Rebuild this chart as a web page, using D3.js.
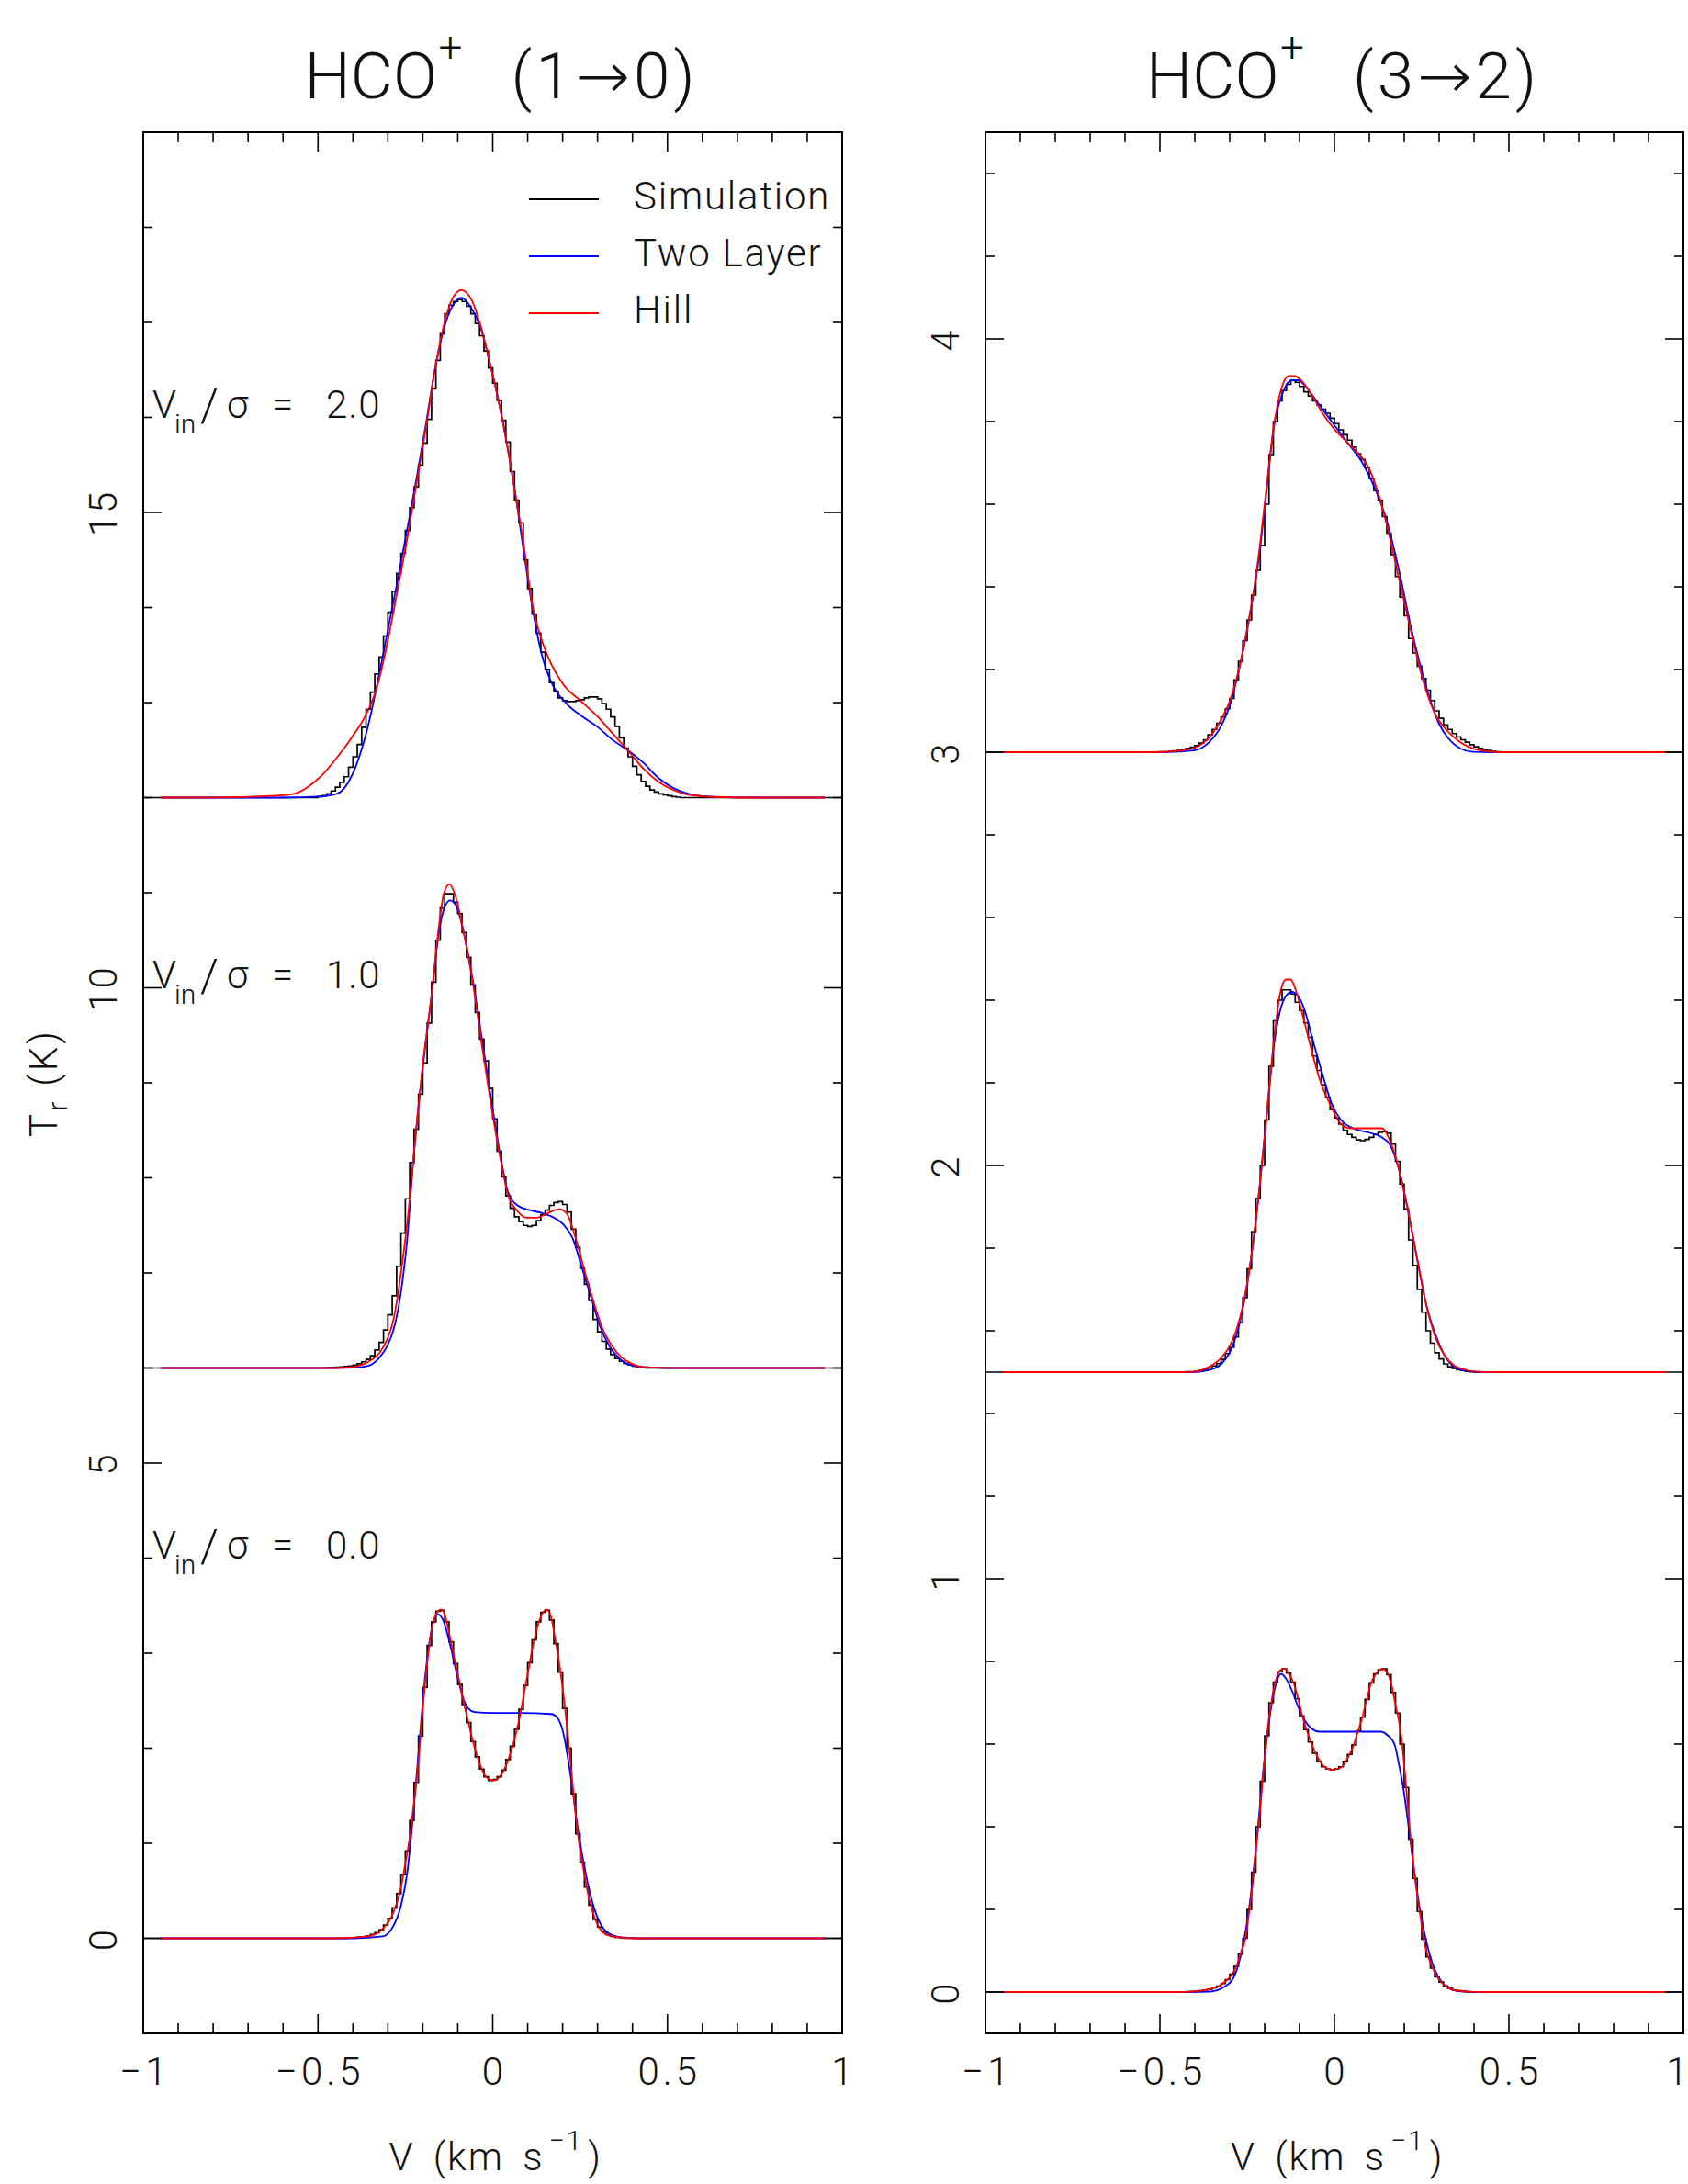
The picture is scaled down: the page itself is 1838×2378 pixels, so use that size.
<!DOCTYPE html>
<html>
<head>
<meta charset="utf-8">
<script src="https://cdn.jsdelivr.net/npm/d3@7"></script>
<style>
  html, body { margin: 0; padding: 0; background: #fff; }
  svg text { font-family: "Roboto", "DejaVu Sans", sans-serif; font-weight: 300; fill: #111; }
</style>
</head>
<body>
<svg id="chart" width="1838" height="2378"></svg>
<script>
// ---------------- DATA ----------------
const panelTitles = ["HCO", "HCO"];
const titleTransitions = ["(1\u21920)", "(3\u21922)"];
const xDomain = [-1, 1];
const xTickValues = [-1, -0.5, 0, 0.5, 1];
const xTickLabels = ["\u22121", "\u22120.5", "0", "0.5", "1"];
const leftYDomain = [-1, 19];
const rightYDomain = [-0.1, 4.5];
const leftYTicks = [0, 5, 10, 15];
const rightYTicks = [0, 1, 2, 3, 4];
const leftOffsets = [12, 6, 0];
const rightOffsets = [3, 1.5, 0];
const vinValues = ["2.0", "1.0", "0.0"];
const legendNames = ["Simulation", "Two Layer", "Hill"];
const seriesColors = ["#000000", "#0000ff", "#ff0000"];

// simulated spectra: channel values (K above offset), channels of width simBinWidth starting at simBinStart
const simBinStart = -0.5;
const simBinWidth = 0.0125;
const simL2 = [0.01,0.02,0.04,0.07,0.11,0.16,0.22,0.32,0.43,0.56,0.74,0.93,1.11,1.30,1.48,1.70,
  1.95,2.17,2.36,2.57,2.81,3.05,3.27,3.50,3.73,3.98,4.30,4.60,4.88,5.09,5.18,5.22,
  5.24,5.22,5.17,5.09,4.99,4.86,4.70,4.52,4.36,4.18,3.97,3.74,3.43,3.13,2.89,2.50,
  2.20,1.93,1.73,1.53,1.35,1.21,1.12,1.05,1.02,1.01,1.01,1.02,1.03,1.05,1.06,1.06,
  1.04,0.99,0.93,0.85,0.75,0.63,0.52,0.43,0.33,0.24,0.17,0.12,0.08,0.06,0.04,0.03,
  0.02,0.01,0.005,0];
const simL1 = [0,0,0.003,0.005,0.008,0.01,0.015,0.02,0.03,0.045,0.065,0.09,0.13,0.19,0.27,0.40,
  0.56,0.76,1.07,1.42,1.78,2.16,2.51,2.88,3.21,3.63,4.06,4.50,4.84,4.99,4.99,4.90,
  4.78,4.58,4.32,4.03,3.74,3.46,3.23,2.94,2.62,2.28,2.01,1.81,1.68,1.59,1.54,1.50,
  1.49,1.50,1.55,1.61,1.66,1.71,1.74,1.75,1.72,1.64,1.46,1.27,1.05,0.88,0.71,0.51,
  0.38,0.28,0.20,0.14,0.10,0.07,0.05,0.035,0.02,0.01,0.005,0,0,0,0,0,
  0,0,0,0];
const simL0 = [0,0,0,0,0,0,0.002,0.004,0.006,0.01,0.015,0.025,0.04,0.06,0.09,0.14,
  0.21,0.32,0.47,0.67,0.92,1.24,1.64,2.13,2.64,3.08,3.33,3.44,3.45,3.33,3.12,2.89,
  2.67,2.46,2.27,2.07,1.91,1.78,1.70,1.66,1.67,1.70,1.77,1.88,2.02,2.20,2.41,2.66,
  2.90,3.14,3.33,3.43,3.45,3.35,3.10,2.80,2.42,2.00,1.52,1.10,0.80,0.54,0.35,0.20,
  0.12,0.07,0.04,0.02,0.01,0.005,0,0,0,0,0,0,0,0,0,0,
  0,0,0,0];
const simR3 = [0.001,0.001,0.002,0.003,0.004,0.006,0.009,0.012,0.016,0.022,0.03,0.042,0.055,0.07,0.085,0.105,
  0.13,0.175,0.22,0.27,0.32,0.38,0.44,0.50,0.60,0.72,0.80,0.85,0.875,0.89,0.90,0.895,
  0.885,0.872,0.862,0.85,0.84,0.83,0.82,0.808,0.795,0.78,0.768,0.755,0.738,0.722,0.708,0.688,
  0.662,0.633,0.61,0.57,0.53,0.478,0.425,0.375,0.33,0.275,0.24,0.208,0.178,0.15,0.125,0.10,
  0.082,0.066,0.055,0.045,0.037,0.03,0.024,0.018,0.013,0.009,0.006,0.004,0.002,0.001,0,0,
  0,0,0,0];
const simR15 = [0,0,0,0,0,0,0.001,0.001,0.002,0.004,0.006,0.01,0.015,0.021,0.031,0.045,
  0.06,0.085,0.12,0.18,0.25,0.34,0.42,0.50,0.61,0.74,0.85,0.90,0.925,0.925,0.915,0.895,
  0.875,0.845,0.81,0.765,0.73,0.695,0.665,0.635,0.615,0.60,0.585,0.575,0.568,0.562,0.56,0.563,
  0.568,0.575,0.58,0.582,0.578,0.552,0.51,0.455,0.395,0.32,0.258,0.20,0.145,0.10,0.07,0.047,
  0.032,0.02,0.013,0.009,0.006,0.004,0.002,0.001,0,0,0,0,0,0,0,0,
  0,0,0,0];
const simR0 = [0,0,0,0,0,0,0.001,0.0015,0.002,0.003,0.005,0.007,0.01,0.014,0.021,0.03,
  0.043,0.062,0.092,0.13,0.20,0.29,0.40,0.51,0.62,0.70,0.75,0.775,0.782,0.772,0.75,0.71,
  0.668,0.635,0.605,0.578,0.558,0.545,0.54,0.538,0.54,0.545,0.558,0.575,0.598,0.632,0.665,0.708,
  0.748,0.77,0.78,0.782,0.768,0.725,0.675,0.60,0.495,0.37,0.275,0.195,0.128,0.085,0.058,0.037,
  0.024,0.015,0.009,0.005,0.003,0.002,0.001,0,0,0,0,0,0,0,0,0,
  0,0,0,0];

// fitted models: [velocity, K above offset]
const twoLayerL2 = [[-0.95,0],[-0.6,0],[-0.5,0.01],[-0.446,0.04],[-0.402,0.24],[-0.359,0.72],[-0.315,1.48],
  [-0.271,2.31],[-0.245,2.82],[-0.219,3.34],[-0.192,3.91],[-0.166,4.49],[-0.140,4.93],[-0.114,5.18],
  [-0.090,5.26],[-0.061,5.15],[-0.035,4.95],[-0.008,4.57],[0.027,3.99],[0.062,3.26],[0.088,2.61],
  [0.114,1.99],[0.140,1.51],[0.167,1.22],[0.211,0.99],[0.254,0.86],[0.298,0.75],[0.342,0.61],
  [0.386,0.50],[0.430,0.37],[0.473,0.21],[0.517,0.10],[0.561,0.04],[0.6,0.015],[0.7,0.002],[0.8,0],[0.95,0]];
const hillL2 = [[-0.95,0],[-0.8,0.002],[-0.7,0.008],[-0.622,0.02],[-0.569,0.04],[-0.534,0.10],[-0.490,0.23],
  [-0.446,0.42],[-0.402,0.64],[-0.359,0.90],[-0.332,1.15],[-0.306,1.55],[-0.271,2.21],[-0.245,2.72],
  [-0.219,3.29],[-0.192,3.87],[-0.166,4.49],[-0.140,4.97],[-0.114,5.26],[-0.090,5.34],[-0.061,5.24],
  [-0.035,4.97],[-0.008,4.57],[0.027,3.99],[0.062,3.26],[0.088,2.68],[0.114,2.02],[0.140,1.66],
  [0.167,1.41],[0.202,1.19],[0.254,1.01],[0.298,0.86],[0.342,0.68],[0.386,0.50],[0.430,0.31],
  [0.473,0.17],[0.517,0.08],[0.561,0.03],[0.65,0.005],[0.75,0],[0.95,0]];
const twoLayerL1 = [[-0.95,0],[-0.45,0],[-0.402,0.003],[-0.359,0.02],[-0.324,0.11],[-0.302,0.23],[-0.284,0.40],
  [-0.271,0.61],[-0.258,0.92],[-0.245,1.34],[-0.227,2.20],[-0.201,3.13],[-0.175,3.92],[-0.153,4.61],
  [-0.135,4.87],[-0.122,4.92],[-0.104,4.86],[-0.083,4.58],[-0.056,4.06],[-0.030,3.44],[-0.004,2.82],
  [0.022,2.23],[0.044,1.85],[0.071,1.71],[0.106,1.66],[0.141,1.63],[0.176,1.58],[0.202,1.51],
  [0.228,1.37],[0.255,1.06],[0.281,0.75],[0.307,0.44],[0.334,0.23],[0.360,0.11],[0.386,0.04],
  [0.430,0.01],[0.5,0],[0.95,0]];
const hillL1 = [[-0.95,0],[-0.45,0],[-0.402,0.01],[-0.359,0.06],[-0.324,0.16],[-0.302,0.30],[-0.284,0.51],
  [-0.271,0.78],[-0.258,1.13],[-0.245,1.51],[-0.227,2.20],[-0.201,3.16],[-0.175,3.92],[-0.153,4.68],
  [-0.140,4.99],[-0.124,5.09],[-0.109,4.99],[-0.083,4.58],[-0.056,4.03],[-0.030,3.37],[-0.004,2.75],
  [0.022,2.20],[0.044,1.82],[0.071,1.65],[0.097,1.58],[0.123,1.58],[0.158,1.63],[0.189,1.67],
  [0.211,1.63],[0.237,1.37],[0.263,1.02],[0.290,0.68],[0.316,0.40],[0.342,0.23],[0.369,0.11],
  [0.395,0.05],[0.430,0.01],[0.5,0],[0.95,0]];
const twoLayerL0 = [[-0.95,0],[-0.4,0],[-0.315,0.02],[-0.289,0.10],[-0.262,0.35],[-0.245,0.68],[-0.227,1.32],
  [-0.210,2.06],[-0.192,2.80],[-0.175,3.25],[-0.157,3.41],[-0.140,3.33],[-0.122,3.09],[-0.100,2.74],
  [-0.083,2.51],[-0.070,2.42],[-0.052,2.38],[0.000,2.37],[0.079,2.37],[0.167,2.36],[0.185,2.32],
  [0.202,2.16],[0.215,1.90],[0.228,1.58],[0.241,1.22],[0.255,0.90],[0.272,0.58],[0.290,0.32],
  [0.307,0.16],[0.333,0.05],[0.368,0.01],[0.42,0],[0.95,0]];
const hillL0 = [[-0.95,0],[-0.45,0],[-0.359,0.02],[-0.315,0.10],[-0.289,0.23],[-0.262,0.55],[-0.249,0.81],
  [-0.236,1.10],[-0.227,1.38],[-0.214,1.80],[-0.201,2.38],[-0.188,2.88],[-0.175,3.24],[-0.162,3.41],
  [-0.148,3.46],[-0.135,3.38],[-0.122,3.16],[-0.109,2.93],[-0.096,2.71],[-0.083,2.48],[-0.070,2.28],
  [-0.056,2.06],[-0.043,1.90],[-0.030,1.77],[-0.017,1.69],[0.002,1.66],[0.022,1.71],[0.036,1.80],
  [0.049,1.93],[0.062,2.09],[0.075,2.29],[0.088,2.54],[0.101,2.80],[0.114,3.06],[0.128,3.28],
  [0.141,3.41],[0.154,3.46],[0.167,3.38],[0.180,3.12],[0.193,2.83],[0.206,2.45],[0.220,1.96],
  [0.233,1.45],[0.246,1.03],[0.259,0.74],[0.272,0.48],[0.285,0.29],[0.298,0.16],[0.316,0.06],
  [0.342,0.02],[0.40,0],[0.95,0]];
const twoLayerR3 = [[-0.95,0],[-0.5,0],[-0.403,0.004],[-0.359,0.024],[-0.324,0.064],[-0.297,0.12],[-0.271,0.21],
  [-0.245,0.32],[-0.218,0.46],[-0.196,0.62],[-0.175,0.78],[-0.148,0.87],[-0.122,0.90],[-0.104,0.90],
  [-0.078,0.88],[-0.043,0.84],[-0.008,0.80],[0.036,0.75],[0.080,0.70],[0.115,0.64],[0.150,0.56],
  [0.185,0.44],[0.220,0.30],[0.246,0.21],[0.273,0.13],[0.299,0.07],[0.325,0.035],[0.361,0.009],
  [0.396,0.001],[0.45,0],[0.95,0]];
const hillR3 = [[-0.95,0],[-0.52,0],[-0.447,0.003],[-0.403,0.01],[-0.359,0.035],[-0.324,0.08],[-0.297,0.13],
  [-0.271,0.21],[-0.245,0.32],[-0.218,0.47],[-0.196,0.63],[-0.175,0.78],[-0.148,0.89],[-0.131,0.91],
  [-0.113,0.91],[-0.096,0.90],[-0.069,0.87],[-0.034,0.82],[0.001,0.78],[0.036,0.75],[0.071,0.72],
  [0.097,0.69],[0.124,0.63],[0.150,0.55],[0.185,0.42],[0.220,0.29],[0.255,0.17],[0.290,0.09],
  [0.325,0.05],[0.361,0.024],[0.396,0.009],[0.431,0.003],[0.475,0],[0.95,0]];
const twoLayerR15 = [[-0.95,0],[-0.45,0],[-0.403,0.0],[-0.359,0.005],[-0.324,0.02],[-0.297,0.053],[-0.271,0.12],
  [-0.245,0.24],[-0.218,0.42],[-0.192,0.64],[-0.175,0.78],[-0.157,0.87],[-0.139,0.91],[-0.122,0.92],
  [-0.104,0.91],[-0.087,0.88],[-0.061,0.80],[-0.034,0.72],[-0.008,0.65],[0.019,0.61],[0.053,0.59],
  [0.097,0.58],[0.132,0.57],[0.159,0.55],[0.185,0.49],[0.211,0.39],[0.238,0.27],[0.264,0.16],
  [0.290,0.09],[0.317,0.039],[0.343,0.013],[0.378,0.003],[0.43,0],[0.95,0]];
const hillR15 = [[-0.95,0],[-0.45,0],[-0.403,0.001],[-0.359,0.013],[-0.324,0.035],[-0.297,0.068],[-0.271,0.13],
  [-0.245,0.24],[-0.218,0.42],[-0.192,0.64],[-0.175,0.79],[-0.157,0.91],[-0.139,0.95],[-0.126,0.95],
  [-0.113,0.93],[-0.096,0.88],[-0.069,0.79],[-0.043,0.71],[-0.008,0.64],[0.019,0.60],[0.045,0.59],
  [0.080,0.59],[0.115,0.59],[0.137,0.59],[0.159,0.56],[0.185,0.49],[0.211,0.39],[0.238,0.27],
  [0.264,0.16],[0.290,0.083],[0.317,0.039],[0.343,0.016],[0.378,0.005],[0.413,0.001],[0.46,0],[0.95,0]];
const twoLayerR0 = [[-0.95,0],[-0.42,0],[-0.359,0.001],[-0.315,0.013],[-0.289,0.035],[-0.271,0.079],[-0.254,0.15],
  [-0.236,0.26],[-0.218,0.41],[-0.201,0.56],[-0.183,0.68],[-0.166,0.75],[-0.153,0.77],[-0.140,0.76],
  [-0.122,0.73],[-0.104,0.69],[-0.087,0.66],[-0.069,0.64],[-0.043,0.63],[0.036,0.63],[0.133,0.63],
  [0.154,0.62],[0.172,0.60],[0.185,0.55],[0.198,0.49],[0.211,0.41],[0.229,0.29],[0.247,0.19],
  [0.264,0.12],[0.286,0.057],[0.308,0.024],[0.334,0.007],[0.369,0.001],[0.42,0],[0.95,0]];
const hillR0 = [[-0.95,0],[-0.45,0],[-0.403,0.0015],[-0.359,0.007],[-0.332,0.014],[-0.315,0.024],[-0.297,0.039],
  [-0.280,0.064],[-0.267,0.098],[-0.255,0.13],[-0.245,0.19],[-0.232,0.28],[-0.223,0.36],[-0.214,0.43],
  [-0.205,0.52],[-0.196,0.60],[-0.188,0.66],[-0.179,0.71],[-0.166,0.76],[-0.153,0.78],[-0.142,0.782],
  [-0.131,0.77],[-0.118,0.75],[-0.104,0.71],[-0.091,0.665],[-0.078,0.63],[-0.065,0.60],[-0.052,0.575],
  [-0.039,0.555],[-0.025,0.543],[-0.008,0.538],[0.010,0.540],[0.027,0.550],[0.040,0.57],[0.054,0.595],
  [0.067,0.63],[0.080,0.665],[0.093,0.71],[0.106,0.75],[0.119,0.77],[0.137,0.782],[0.150,0.775],
  [0.163,0.745],[0.176,0.69],[0.185,0.655],[0.194,0.60],[0.203,0.52],[0.211,0.44],[0.220,0.36],
  [0.229,0.29],[0.238,0.23],[0.247,0.18],[0.255,0.13],[0.268,0.087],[0.282,0.057],[0.299,0.031],
  [0.321,0.013],[0.343,0.005],[0.387,0.001],[0.43,0],[0.95,0]];

// ---------------- DRAWING ----------------
const svg = d3.select("#chart");
const FONT = 42;
const TOP = 144, BOTTOM = 2214;
const W = 1838;

const panels = [
  { x0: 156, x1: 917, yDomain: leftYDomain, yTicks: leftYTicks, minorStep: 1, majorStep: 5,
    title: panelTitles[0], trans: titleTransitions[0], offsets: leftOffsets,
    sims: [simL2, simL1, simL0], two: [twoLayerL2, twoLayerL1, twoLayerL0], hill: [hillL2, hillL1, hillL0],
    legend: true, labels: true, ylabel: true },
  { x0: 1073, x1: 1833, yDomain: rightYDomain, yTicks: rightYTicks, minorStep: 0.2, majorStep: 1,
    title: panelTitles[1], trans: titleTransitions[1], offsets: rightOffsets,
    sims: [simR3, simR15, simR0], two: [twoLayerR3, twoLayerR15, twoLayerR0], hill: [hillR3, hillR15, hillR0],
    legend: false, labels: false, ylabel: false }
];

panels.forEach(p => {
  const x = d3.scaleLinear().domain(xDomain).range([p.x0, p.x1]);
  const y = d3.scaleLinear().domain(p.yDomain).range([BOTTOM, TOP]);
  const g = svg.append("g");
  const cx = (p.x0 + p.x1) / 2;

  // spectra
  p.offsets.forEach((off, i) => {
    const vals = p.sims[i];
    const pts = [[xDomain[0], off], [simBinStart, off]];
    vals.forEach((v, k) => {
      const e0 = simBinStart + k * simBinWidth, e1 = e0 + simBinWidth;
      pts.push([e0, v + off], [e1, v + off]);
    });
    const simEnd = simBinStart + vals.length * simBinWidth;
    pts.push([simEnd, off], [xDomain[1], off]);
    const lineStep = d3.line().x(d => x(d[0])).y(d => y(d[1]));
    g.append("path").attr("d", lineStep(pts)).attr("fill", "none")
      .attr("stroke", seriesColors[0]).attr("stroke-width", 1.7).attr("stroke-linejoin", "miter");

    const smooth = d3.line().curve(d3.curveMonotoneX).x(d => x(d[0])).y(d => y(d[1] + off));
    g.append("path").attr("d", smooth(p.two[i])).attr("fill", "none")
      .attr("stroke", seriesColors[1]).attr("stroke-width", 1.8);
    g.append("path").attr("d", smooth(p.hill[i])).attr("fill", "none")
      .attr("stroke", seriesColors[2]).attr("stroke-width", 1.8);
  });

  // frame
  g.append("rect").attr("x", p.x0).attr("y", TOP).attr("width", p.x1 - p.x0).attr("height", BOTTOM - TOP)
    .attr("fill", "none").attr("stroke", "#000").attr("stroke-width", 2);

  // x ticks (top and bottom)
  const xMinor = d3.range(-10, 11).map(k => k / 10);
  xMinor.forEach(v => {
    const major = Math.abs(v * 2 - Math.round(v * 2)) < 1e-9;
    const len = major ? 21 : 11;
    const xx = x(v);
    g.append("line").attr("x1", xx).attr("x2", xx).attr("y1", BOTTOM).attr("y2", BOTTOM - len)
      .attr("stroke", "#000").attr("stroke-width", 1.6);
    g.append("line").attr("x1", xx).attr("x2", xx).attr("y1", TOP).attr("y2", TOP + len)
      .attr("stroke", "#000").attr("stroke-width", 1.6);
  });
  // y ticks (left and right)
  const nMin = Math.ceil(p.yDomain[0] / p.minorStep - 1e-9), nMax = Math.floor(p.yDomain[1] / p.minorStep + 1e-9);
  d3.range(nMin, nMax + 1).forEach(k => {
    const v = k * p.minorStep;
    const r = v / p.majorStep;
    const major = Math.abs(r - Math.round(r)) < 1e-6;
    const len = major ? 20 : 10;
    const yy = y(v);
    g.append("line").attr("x1", p.x0).attr("x2", p.x0 + len).attr("y1", yy).attr("y2", yy)
      .attr("stroke", "#000").attr("stroke-width", 1.6);
    g.append("line").attr("x1", p.x1).attr("x2", p.x1 - len).attr("y1", yy).attr("y2", yy)
      .attr("stroke", "#000").attr("stroke-width", 1.6);
  });

  // x tick labels
  xTickValues.forEach((v, i) => {
    const lab = xTickLabels[i];
    const multi = lab.length > 1;
    g.append("text").attr("x", Math.min(x(v) + (multi ? 2 : 0), W - 12)).attr("y", 2270)
      .attr("text-anchor", "middle").attr("letter-spacing", multi ? 4 : 0)
      .attr("font-size", FONT).text(lab);
  });
  // y tick labels (rotated)
  p.yTicks.forEach(t => {
    g.append("text").attr("transform", `translate(${p.x0 - 29},${y(t) + 1}) rotate(-90)`)
      .attr("text-anchor", "middle").attr("letter-spacing", 2).attr("font-size", FONT).text(String(t));
  });

  // x axis label
  const xl = g.append("text").attr("x", cx - 113).attr("y", 2363).attr("font-size", FONT)
    .attr("letter-spacing", 2);
  xl.append("tspan").attr("word-spacing", 8).text("V (km s");
  xl.append("tspan").attr("font-size", 30).attr("dy", -22).attr("dx", 5).text("\u22121");
  xl.append("tspan").attr("font-size", FONT).attr("dy", 22).attr("dx", 5).text(")");

  // title
  g.append("text").attr("x", cx - 205).attr("y", 107).attr("font-size", 71).text(p.title);
  g.append("text").attr("x", cx - 46).attr("y", 67).attr("text-anchor", "middle").attr("font-size", 46).text("+");
  g.append("text").attr("x", cx + 20).attr("y", 107).attr("font-size", 71).attr("letter-spacing", 4).text(p.trans);

  // y label
  if (p.ylabel) {
    const yl = g.append("text").attr("transform", `translate(62,${(TOP + BOTTOM) / 2}) rotate(-90)`)
      .attr("text-anchor", "middle").attr("font-size", FONT).attr("letter-spacing", 3);
    yl.append("tspan").text("T");
    yl.append("tspan").attr("font-size", 30).attr("dy", 11).text("r");
    yl.append("tspan").attr("font-size", FONT).attr("dy", -11).attr("dx", 14).text("(K)");
  }

  // V_in / sigma labels
  if (p.labels) {
    p.offsets.forEach((off, i) => {
      const by = y(off + 4);
      const lx = p.x0 + 10;
      g.append("text").attr("x", lx).attr("y", by).attr("font-size", FONT).text("V");
      g.append("text").attr("x", lx + 24).attr("y", by + 17).attr("font-size", 30).text("in");
      g.append("text").attr("x", lx + 52).attr("y", by + 4).attr("font-size", 50).text("/");
      g.append("text").attr("x", lx + 81).attr("y", by).attr("font-size", FONT).text("\u03c3");
      g.append("text").attr("x", lx + 130).attr("y", by).attr("font-size", FONT).text("=");
      g.append("text").attr("x", lx + 189).attr("y", by).attr("font-size", FONT)
        .attr("letter-spacing", 1).text(vinValues[i]);
    });
  }

  // legend
  if (p.legend) {
    legendNames.forEach((name, i) => {
      const ly = 217 + i * 62;
      g.append("line").attr("x1", 576).attr("x2", 652).attr("y1", ly).attr("y2", ly)
        .attr("stroke", seriesColors[i]).attr("stroke-width", 1.8);
      g.append("text").attr("x", 690).attr("y", ly + 11).attr("font-size", FONT)
        .attr("letter-spacing", 1.8).text(name);
    });
  }
});
</script>
</body>
</html>
